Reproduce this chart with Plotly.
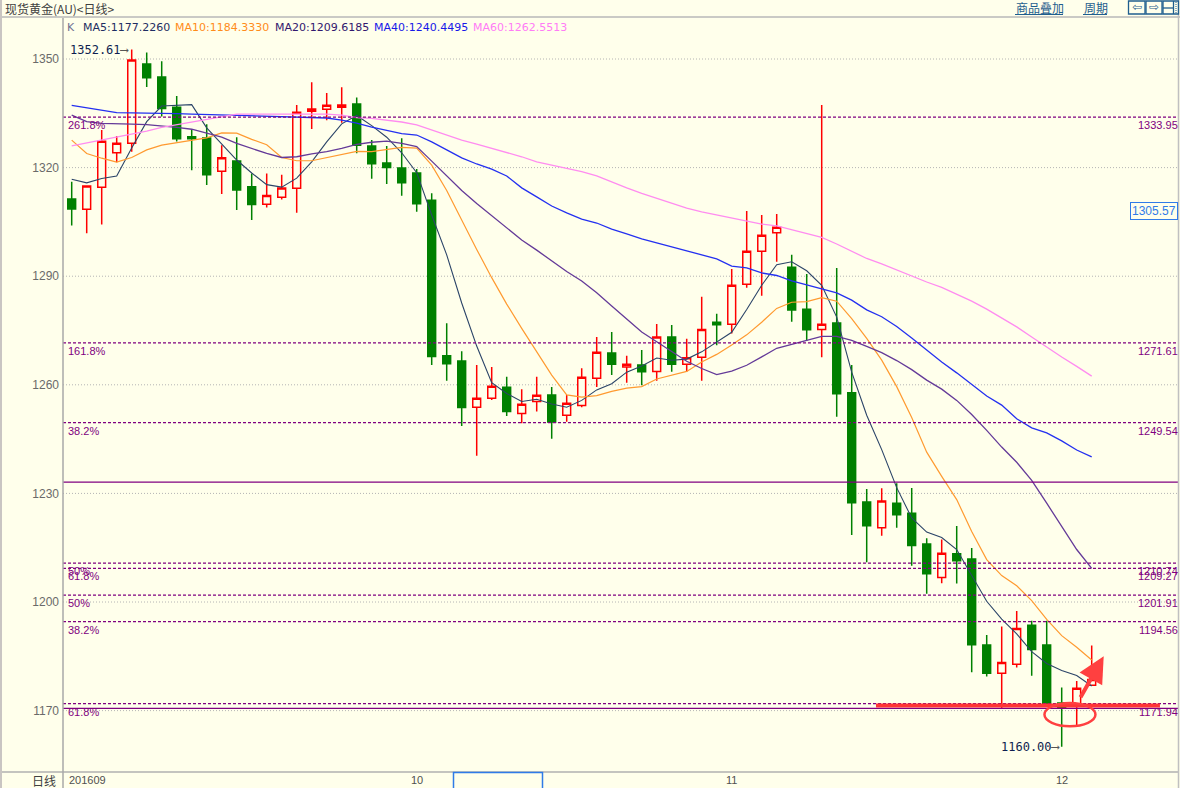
import plotly.graph_objects as go

# ---------------- data ----------------
days = list(range(69))
open_ = [1311.3, 1308.5, 1314.6, 1324.1, 1326.7, 1348.6, 1345.0, 1336.7, 1328.5, 1328.2,
         1319.0, 1321.8, 1314.7, 1309.9, 1311.8, 1314.3, 1335.6, 1336.1, 1336.7, 1337.6,
         1326.0, 1321.3, 1319.9, 1318.5, 1311.0, 1268.0, 1266.6, 1253.8, 1256.3, 1259.3,
         1252.1, 1255.4, 1257.2, 1251.6, 1254.3, 1261.8, 1268.8, 1264.9, 1265.5, 1263.7,
         1273.2, 1265.7, 1267.6, 1277.3, 1276.7, 1287.8, 1296.9, 1302.0, 1292.5, 1280.9,
         1275.3, 1277.1, 1257.8, 1227.6, 1220.5, 1227.3, 1224.5, 1216.0, 1206.8, 1213.3,
         1211.9, 1188.1, 1180.3, 1182.8, 1193.6, 1188.1, 1172.1, 1171.5, 1177.0]
high = [1316.1, 1315.1, 1330.4, 1328.7, 1352.61, 1351.8, 1349.4, 1339.8, 1330.4, 1332.0,
        1326.2, 1328.4, 1318.4, 1318.4, 1318.0, 1337.3, 1343.6, 1340.6, 1342.2, 1339.4,
        1327.6, 1326.0, 1328.1, 1319.6, 1312.9, 1277.0, 1269.3, 1265.5, 1264.9, 1262.2,
        1258.8, 1262.2, 1259.4, 1257.2, 1264.6, 1273.2, 1274.6, 1268.0, 1269.6, 1276.8,
        1276.5, 1272.7, 1284.3, 1279.6, 1292.0, 1308.0, 1306.9, 1307.2, 1295.9, 1290.6,
        1337.3, 1292.3, 1265.5, 1231.2, 1231.4, 1232.8, 1231.5, 1217.6, 1217.3, 1221.0,
        1214.9, 1190.9, 1193.2, 1197.5, 1194.8, 1194.8, 1176.4, 1178.2, 1188.0]
low = [1304.0, 1301.9, 1304.3, 1321.5, 1324.4, 1342.3, 1334.1, 1327.2, 1319.3, 1315.2,
       1312.7, 1308.3, 1305.5, 1309.0, 1311.2, 1307.5, 1330.7, 1333.1, 1332.4, 1324.0,
       1316.9, 1315.5, 1312.2, 1307.8, 1265.5, 1261.1, 1248.6, 1240.4, 1255.8, 1251.4,
       1249.4, 1252.6, 1245.1, 1249.8, 1253.8, 1259.4, 1262.7, 1260.6, 1259.9, 1261.1,
       1263.6, 1263.6, 1261.1, 1270.9, 1274.2, 1286.8, 1284.6, 1294.0, 1277.4, 1272.2,
       1267.6, 1251.2, 1218.5, 1211.0, 1218.3, 1220.5, 1210.0, 1202.3, 1205.2, 1205.1,
       1180.6, 1179.4, 1170.6, 1181.9, 1179.6, 1171.0, 1160.0, 1166.0, 1176.8]
close = [1308.6, 1314.9, 1327.3, 1326.7, 1349.7, 1344.8, 1336.3, 1328.0, 1328.0, 1318.0,
         1322.7, 1313.8, 1309.8, 1312.3, 1314.4, 1335.3, 1336.2, 1337.2, 1337.3, 1326.2,
         1321.1, 1320.0, 1315.8, 1310.0, 1267.8, 1265.8, 1253.7, 1256.3, 1259.6, 1252.6,
         1254.6, 1257.1, 1249.7, 1254.9, 1262.1, 1269.0, 1265.7, 1265.7, 1263.6, 1273.2,
         1265.7, 1267.5, 1275.3, 1276.6, 1287.5, 1296.9, 1301.3, 1303.5, 1280.7, 1275.2,
         1276.7, 1257.5, 1227.4, 1221.1, 1227.9, 1224.1, 1215.6, 1207.8, 1213.5, 1211.4,
         1188.2, 1180.3, 1183.3, 1192.7, 1186.9, 1171.8, 1170.7, 1176.2, 1178.6]

ma5 = [1316.8, 1315.8, 1317.0, 1317.7, 1325.4, 1332.7, 1337.0, 1337.1, 1337.4, 1331.0,
       1326.6, 1322.1, 1318.5, 1315.3, 1314.6, 1317.1, 1321.6, 1327.1, 1332.1, 1334.4,
       1331.6, 1328.4, 1324.1, 1318.6, 1306.9, 1295.9, 1282.6, 1270.7, 1260.6, 1257.6,
       1255.4, 1256.0, 1254.7, 1253.8, 1255.7, 1258.6, 1260.3, 1263.5, 1265.2, 1267.4,
       1266.8, 1267.1, 1269.1, 1271.7, 1274.5, 1280.8, 1287.5, 1293.2, 1294.0, 1291.5,
       1287.5, 1278.7, 1263.5, 1251.6, 1242.1, 1231.6, 1223.2, 1219.3, 1217.8, 1214.5,
       1207.3, 1200.2, 1195.3, 1191.2, 1186.3, 1183.0, 1181.1, 1179.7, 1176.8]
ma10 = [1327.6, 1323.9, 1322.6, 1321.5, 1322.8, 1324.9, 1326.2, 1326.9, 1327.6, 1328.2,
        1329.6, 1329.5, 1327.8, 1326.3, 1322.8, 1321.9, 1321.9, 1322.8, 1323.7, 1324.5,
        1324.4, 1325.0, 1325.6, 1325.4, 1320.7, 1313.7, 1305.5, 1297.4, 1289.6, 1282.3,
        1275.6, 1269.3, 1262.7, 1257.2, 1256.6, 1257.0, 1258.2, 1259.1, 1259.5, 1261.6,
        1262.7, 1263.7, 1266.3, 1268.4, 1271.0, 1273.8, 1277.3, 1281.1, 1282.8, 1283.0,
        1284.1, 1283.1, 1278.3, 1272.8, 1266.8, 1259.5, 1251.0, 1241.4, 1234.7, 1228.3,
        1219.5, 1211.7, 1207.3, 1204.5, 1200.4, 1195.2, 1190.7, 1187.5, 1184.0]
ma20 = [1334.5, 1332.7, 1332.2, 1332.0, 1332.0, 1331.9, 1331.6, 1331.1, 1330.6, 1329.5,
        1328.4, 1326.7, 1325.3, 1323.9, 1322.8, 1323.0, 1323.8, 1324.4, 1325.3, 1326.4,
        1327.0, 1327.3, 1326.7, 1325.8, 1321.8, 1317.8, 1313.7, 1310.1, 1306.7, 1303.4,
        1300.0, 1297.2, 1294.2, 1291.3, 1288.7, 1285.4, 1281.8, 1278.3, 1274.6, 1271.9,
        1269.1, 1266.5, 1264.5, 1262.8, 1263.8, 1265.4, 1267.7, 1270.1, 1271.2, 1272.3,
        1273.4, 1273.4, 1272.3, 1270.6, 1268.9, 1266.7, 1264.2, 1261.3, 1258.8, 1255.7,
        1251.8, 1247.4, 1242.8, 1238.6, 1233.6, 1227.3, 1220.8, 1214.5, 1209.3]
ma40 = [1337.2, 1336.5, 1335.9, 1335.2, 1335.1, 1335.1, 1335.1, 1334.9, 1334.8, 1334.7,
        1334.5, 1334.4, 1334.3, 1334.1, 1334.1, 1334.0, 1333.8, 1333.7, 1333.1, 1332.3,
        1331.2, 1330.2, 1329.4, 1329.0, 1327.1, 1324.9, 1322.7, 1321.0, 1319.6, 1317.7,
        1314.4, 1311.9, 1309.4, 1307.5, 1305.8, 1304.7, 1303.0, 1301.7, 1300.3, 1299.2,
        1298.1, 1297.0, 1295.9, 1294.8, 1292.8, 1292.3, 1290.9, 1290.2, 1288.7, 1287.6,
        1286.5, 1285.4, 1283.4, 1280.7, 1278.8, 1276.1, 1272.9, 1269.6, 1266.3, 1263.3,
        1260.0, 1256.9, 1254.4, 1250.6, 1248.1, 1246.7, 1244.5, 1242.0, 1240.1]
ma60 = [1326.0, 1326.8, 1327.8, 1328.6, 1329.3, 1330.1, 1331.1, 1331.8, 1332.6, 1333.3,
        1334.0, 1334.8, 1334.8, 1334.8, 1334.8, 1334.8, 1334.8, 1334.8, 1334.5, 1333.8,
        1333.6, 1333.1, 1332.6, 1331.8, 1330.4, 1329.0, 1327.6, 1326.5, 1325.4, 1324.3,
        1323.0, 1321.6, 1320.7, 1319.9, 1318.9, 1317.7, 1316.0, 1314.4, 1312.9, 1311.6,
        1310.2, 1308.8, 1307.8, 1306.9, 1306.1, 1305.1, 1304.4, 1303.9, 1302.9, 1301.9,
        1300.7, 1298.9, 1296.9, 1294.9, 1293.4, 1291.7, 1290.1, 1288.4, 1286.9, 1285.1,
        1283.1, 1280.9, 1278.5, 1276.0, 1273.2, 1270.4, 1267.7, 1265.1, 1262.4]

ma_names = ["MA5", "MA10", "MA20", "MA40", "MA60"]
ma_last_text = ["1177.2260", "1184.3330", "1209.6185", "1240.4495", "1262.5513"]

fib_levels = [1333.95, 1271.61, 1249.54, 1210.74, 1209.27, 1201.91, 1194.56, 1171.94]
fib_ratios = ["261.8%", "161.8%", "38.2%", "50%", "61.8%", "50%", "38.2%", "61.8%"]
solid_levels = [1233.1, 1170.6]
y_ticks = [1170, 1200, 1230, 1260, 1290, 1320, 1350]
month_ticks = [23, 44, 66]
month_labels = ["10", "11", "12"]
first_month_label = "201609"
high_mark = (4, 1352.61)
low_mark = (66, 1160.00)
cursor_price = 1305.57
support_level = 1171.4

for arr in (open_, high, low, close, ma5, ma10, ma20, ma40, ma60):
    assert len(arr) == 69, len(arr)

# ---------------- styling ----------------
BG = "#FFFFEB"
GREEN = "#008000"
RED = "#FF0000"
FIB = "#800080"
MA_LINE_COLORS = ["#2B4468", "#FF9A30", "#643A98", "#2430F0", "#FF8CF0"]
MA_TEXT_COLORS = ["#1E2E62", "#FF8C1A", "#33186E", "#1818E8", "#FF7CF6"]
LINK = "#1F5E8E"

W, H = 1180, 788
PL, PR, PT, PB = 63, 1178, 18, 772          # plot area in pixels
X0 = -0.58
X1 = 73.753
Y0, Y1 = 1153.04, 1361.33


def px(p):
    return (p - PL) / (PR - PL)


def py(p):
    return (PB - p) / (PB - PT)


fig = go.Figure()
fig.add_trace(go.Candlestick(
    x=days, open=open_, high=high, low=low, close=close,
    increasing=dict(line=dict(color=RED, width=1.5), fillcolor=BG),
    decreasing=dict(line=dict(color=GREEN, width=1.5), fillcolor=GREEN),
    whiskerwidth=0, hoverinfo="skip", showlegend=False))

for arr, col, w in zip([ma5, ma10, ma20, ma40, ma60], MA_LINE_COLORS, [1.1, 1.2, 1.3, 1.3, 1.3]):
    fig.add_trace(go.Scatter(x=days, y=arr, mode="lines", line=dict(color=col, width=w),
                             hoverinfo="skip", showlegend=False))

shapes = []
# dotted grid
for v in y_ticks:
    shapes.append(dict(type="line", xref="paper", x0=0, x1=1, yref="y", y0=v, y1=v,
                       line=dict(color="#B4B4B4", width=1, dash="1px,2px"), layer="below"))
# fib dashed lines
for v in fib_levels:
    shapes.append(dict(type="line", xref="paper", x0=0, x1=1, yref="y", y0=v, y1=v,
                       line=dict(color=FIB, width=1.2, dash="3px,2px"), layer="above"))
for v in solid_levels:
    shapes.append(dict(type="line", xref="paper", x0=0, x1=1, yref="y", y0=v, y1=v,
                       line=dict(color=FIB, width=1.2), layer="above"))
# red support line and ellipse
shapes.append(dict(type="line", xref="x", x0=53.62, x1=72.55, yref="y", y0=support_level,
                   y1=support_level, line=dict(color="#FF3535", width=4), layer="above"))
shapes.append(dict(type="circle", xref="x", x0=64.85, x1=68.25, yref="y", y0=1165.7, y1=1172.1,
                   line=dict(color="#FF4040", width=2.5), layer="above"))
# frame lines
shapes.append(dict(type="line", xref="paper", x0=px(0), x1=px(W), yref="paper", y0=py(17), y1=py(17),
                   line=dict(color="#B8B8B8", width=1.5)))
shapes.append(dict(type="line", xref="paper", x0=px(0), x1=px(PR), yref="paper", y0=0, y1=0,
                   line=dict(color="#B0B0B0", width=1.5)))
shapes.append(dict(type="line", xref="paper", x0=0, x1=0, yref="paper", y0=py(H + 2), y1=py(PT),
                   line=dict(color="#A8A8A8", width=1.5)))
shapes.append(dict(type="line", xref="paper", x0=px(PR + 0.5), x1=px(PR + 0.5), yref="paper",
                   y0=py(H + 2), y1=py(0), line=dict(color="#C0C0C0", width=1.5)))
shapes.append(dict(type="rect", xref="paper", x0=px(-2), x1=px(2), yref="paper", y0=py(H + 2),
                   y1=py(-2), line=dict(width=0), fillcolor="#C9C5C2"))
# blue scroll box at bottom
shapes.append(dict(type="rect", xref="paper", x0=px(453.5), x1=px(542.5), yref="paper",
                   y0=py(H + 4), y1=py(772.5), line=dict(color="#2F7BE8", width=1.5)))
# header buttons and underlines
for bx0, bx1 in [(1128.5, 1145), (1146, 1162), (1163, 1178.5)]:
    shapes.append(dict(type="rect", xref="paper", x0=px(bx0), x1=px(bx1), yref="paper",
                       y0=py(14), y1=py(1), line=dict(color=LINK, width=1.3)))
shapes.append(dict(type="line", xref="paper", x0=px(1163), x1=px(1173), yref="paper",
                   y0=py(8), y1=py(8), line=dict(color=LINK, width=1.3)))
shapes.append(dict(type="line", xref="paper", x0=px(1173.5), x1=px(1173.5), yref="paper",
                   y0=py(14), y1=py(1), line=dict(color=LINK, width=1.3)))
shapes.append(dict(type="line", xref="paper", x0=px(1176), x1=px(1176), yref="paper",
                   y0=py(13), y1=py(2), line=dict(color=LINK, width=1, dash="1px,1px")))
for ux0, ux1 in [(1015, 1063), (1083, 1107)]:
    shapes.append(dict(type="line", xref="paper", x0=px(ux0), x1=px(ux1), yref="paper",
                       y0=py(14.5), y1=py(14.5), line=dict(color=LINK, width=1)))

ann = []
LAB = dict(family="Liberation Sans", size=11, color=FIB)
for v, r in zip(fib_levels, fib_ratios):
    ann.append(dict(xref="paper", x=px(66), xanchor="left", yref="y", y=v, yanchor="top",
                    text=r, showarrow=False, font=LAB, yshift=0))
    ann.append(dict(xref="paper", x=1, xanchor="right", xshift=2, yref="y", y=v, yanchor="top",
                    text=f"{v:.2f}", showarrow=False, font=LAB, yshift=0))

# title and legend line
ann.append(dict(xref="paper", x=px(3), xanchor="left", yref="paper", y=py(8.5), yanchor="middle",
                text="现货黄金(AU)&lt;日线&gt;", showarrow=False,
                font=dict(family="Noto Sans CJK SC", size=12, color="#404040")))
ann.append(dict(xref="paper", x=px(65), xanchor="left", yref="paper", y=py(27.5), yanchor="middle",
                text="K", showarrow=False, font=dict(family="DejaVu Sans", size=11, color="#707090")))
for name, val, col, lx in zip(ma_names, ma_last_text, MA_TEXT_COLORS, [81, 173, 272.5, 372, 470.5]):
    ann.append(dict(xref="paper", x=px(lx), xanchor="left", yref="paper", y=py(27.5), yanchor="middle",
                    text=f"{name}:{val}", showarrow=False,
                    font=dict(family="DejaVu Sans", size=11, color=col)))
# header links
for t, cx in [("商品叠加", 1039.5), ("周期", 1095.5)]:
    ann.append(dict(xref="paper", x=px(cx), xanchor="center", yref="paper", y=py(7.5), yanchor="middle",
                    text=t, showarrow=False, font=dict(family="Noto Sans CJK SC", size=12, color=LINK)))
for t, cx in [("⇦", 1137), ("⇨", 1154)]:
    ann.append(dict(xref="paper", x=px(cx), xanchor="center", yref="paper", y=py(7.5), yanchor="middle",
                    text=t, showarrow=False, font=dict(family="DejaVu Sans", size=12, color=LINK)))

# bottom axis labels
BOT = dict(family="Liberation Sans", size=11, color="#505050")
ann.append(dict(xref="paper", x=px(58), xanchor="right", yref="paper", y=py(780), yanchor="middle",
                text="日线", showarrow=False, font=dict(family="Noto Sans CJK SC", size=12, color="#404040")))
ann.append(dict(xref="paper", x=px(67), xanchor="left", yref="paper", y=py(780), yanchor="middle",
                text=first_month_label, showarrow=False, font=BOT))
for i, t in zip(month_ticks, month_labels):
    ann.append(dict(xref="x", x=i, xanchor="center", yref="paper", y=py(780), yanchor="middle",
                    text=t, showarrow=False, font=BOT))

# high / low markers
MONO = dict(family="DejaVu Sans Mono", size=12, color="#0E1E50")
ann.append(dict(xref="x", x=high_mark[0], xanchor="right", xshift=-1, yref="y", y=high_mark[1],
                yanchor="middle", text=f"{high_mark[1]:.2f}<span style='color:#555'>⟶</span>",
                showarrow=False, font=MONO))
ann.append(dict(xref="x", x=low_mark[0], xanchor="right", xshift=0, yref="y", y=low_mark[1],
                yanchor="middle", text=f"{low_mark[1]:.2f}<span style='color:#555'>⟶</span>",
                showarrow=False, font=MONO))
# cursor price box
ann.append(dict(xref="paper", x=1, xanchor="right", yref="y", y=cursor_price, yanchor="bottom",
                text=f"{cursor_price:.2f}", showarrow=False, bgcolor=BG, bordercolor="#2F7BE8",
                borderwidth=1, borderpad=1, font=dict(family="Liberation Sans", size=12, color="#2F7BE8")))
# red arrow
ann.append(dict(xref="x", yref="y", x=68.8, y=1185.0, axref="x", ayref="y", ax=67.2, ay=1173.3,
                text="", showarrow=True, arrowhead=2, arrowsize=1.3, arrowwidth=4,
                arrowcolor="#FF4040", standoff=0, startstandoff=0))

fig.update_layout(
    width=W, height=H,
    margin=dict(l=PL, r=W - PR, t=PT, b=H - PB, pad=0),
    paper_bgcolor=BG, plot_bgcolor=BG,
    showlegend=False, boxgap=0.25,
    shapes=shapes, annotations=ann,
    xaxis=dict(range=[X0, X1], showgrid=False, zeroline=False, showticklabels=False,
               showline=False, ticks="", rangeslider=dict(visible=False), fixedrange=True),
    yaxis=dict(range=[Y0, Y1], tickvals=y_ticks, ticktext=[str(v) for v in y_ticks],
               showgrid=False, zeroline=False, showline=False, ticks="",
               ticklabelstandoff=3,
               tickfont=dict(family="Liberation Sans", size=12, color="#6A6A6A"), fixedrange=True),
)

fig.write_html("out.html", config={"displayModeBar": False},
               post_script="document.body.style.margin='0px';document.body.style.overflow='hidden';"
                           "document.body.style.background='" + BG + "';")
